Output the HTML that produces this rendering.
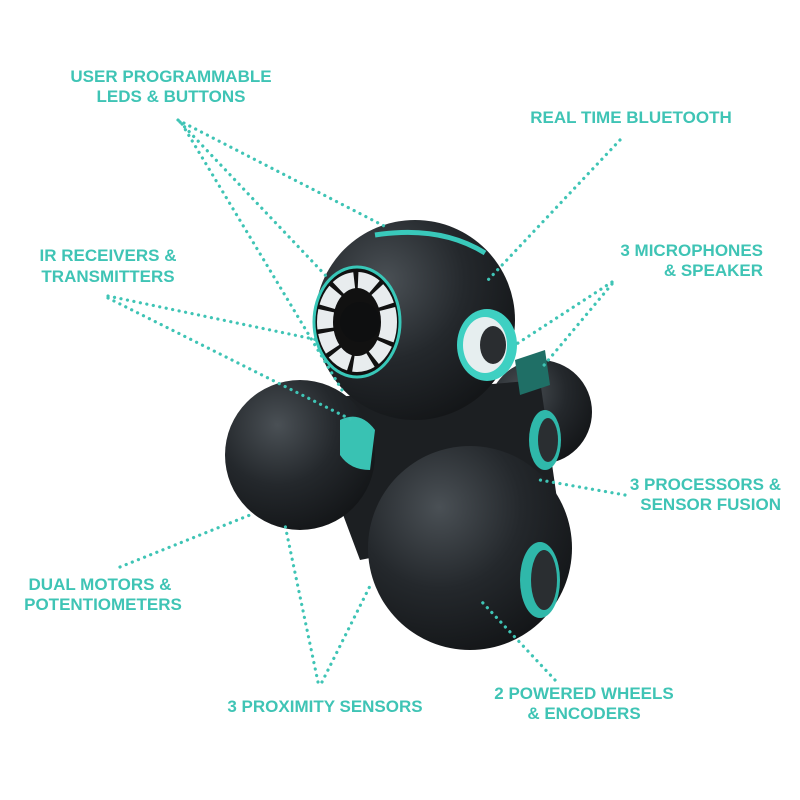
<!DOCTYPE html>
<html><head><style>
body{margin:0;background:#fff}
svg{display:block}
text{font-family:"Liberation Sans",sans-serif;font-weight:bold;font-size:17px;fill:#3fc4b5}
.d{stroke:#3fc4b5;stroke-width:3.2;stroke-dasharray:0.1 6.5;stroke-linecap:round;fill:none}
</style></head><body>
<svg width="800" height="800" viewBox="0 0 800 800">
<defs>
<radialGradient id="g" cx="0.35" cy="0.3" r="0.8">
<stop offset="0" stop-color="#4a5055"/><stop offset="0.5" stop-color="#24282c"/><stop offset="1" stop-color="#111315"/>
</radialGradient>
</defs>
<circle cx="540" cy="412" r="52" fill="url(#g)"/>
<path d="M300 400 L540 380 L560 520 L360 560 Z" fill="#1c1f22"/>
<circle cx="300" cy="455" r="75" fill="url(#g)"/>
<circle cx="470" cy="548" r="102" fill="url(#g)"/>
<ellipse cx="545" cy="440" rx="16" ry="30" fill="#2fb8aa"/>
<ellipse cx="548" cy="440" rx="10" ry="22" fill="#2a2e31"/>
<ellipse cx="540" cy="580" rx="20" ry="38" fill="#2fb8aa"/>
<ellipse cx="544" cy="580" rx="13" ry="30" fill="#2a2e31"/>
<path d="M340 420 Q360 410 375 430 L370 470 Q350 470 340 455 Z" fill="#39c2b3"/>
<circle cx="415" cy="320" r="100" fill="url(#g)"/>
<path d="M375 235 Q440 225 485 253" stroke="#39c9bb" stroke-width="5" fill="none"/>
<ellipse cx="357" cy="322" rx="43" ry="55" fill="#111" stroke="#38c7b8" stroke-width="3"/>
<ellipse cx="357" cy="322" rx="32" ry="42" fill="none" stroke="#e8ecee" stroke-width="16" stroke-dasharray="18 4"/>
<circle cx="360" cy="322" r="20" fill="#0e0f10"/>
<ellipse cx="487" cy="345" rx="30" ry="36" fill="#3ed0c2"/>
<ellipse cx="485" cy="345" rx="22" ry="28" fill="#e6eeef"/>
<ellipse cx="493" cy="345" rx="13" ry="19" fill="#2a2d30"/>
<path d="M515 360 L545 350 L550 385 L520 395 Z" fill="#1f6f66"/>
<path class="d" d="M178 120 L388 228 M180 122 L328 278 M182 124 L345 395"/>
<path class="d" d="M620 140 L488 280"/>
<path class="d" d="M108 296 L318 340 M108 298 L352 420"/>
<path class="d" d="M612 282 L515 345 M612 284 L540 370"/>
<path class="d" d="M625 495 L540 480"/>
<path class="d" d="M120 567 L250 515"/>
<path class="d" d="M318 682 L285 525 M322 682 L372 582"/>
<path class="d" d="M555 680 L482 602"/>
<text x="171" y="82" text-anchor="middle">USER PROGRAMMABLE</text>
<text x="171" y="102" text-anchor="middle">LEDS &amp; BUTTONS</text>
<text x="631" y="123" text-anchor="middle">REAL TIME BLUETOOTH</text>
<text x="108" y="261" text-anchor="middle">IR RECEIVERS &amp;</text>
<text x="108" y="282" text-anchor="middle">TRANSMITTERS</text>
<text x="763" y="256" text-anchor="end">3 MICROPHONES</text>
<text x="763" y="276" text-anchor="end">&amp; SPEAKER</text>
<text x="781" y="490" text-anchor="end">3 PROCESSORS &amp;</text>
<text x="781" y="510" text-anchor="end">SENSOR FUSION</text>
<text x="100" y="590" text-anchor="middle">DUAL MOTORS &amp;</text>
<text x="103" y="610" text-anchor="middle">POTENTIOMETERS</text>
<text x="325" y="712" text-anchor="middle">3 PROXIMITY SENSORS</text>
<text x="584" y="699" text-anchor="middle">2 POWERED WHEELS</text>
<text x="584" y="719" text-anchor="middle">&amp; ENCODERS</text>
</svg>
</body></html>
